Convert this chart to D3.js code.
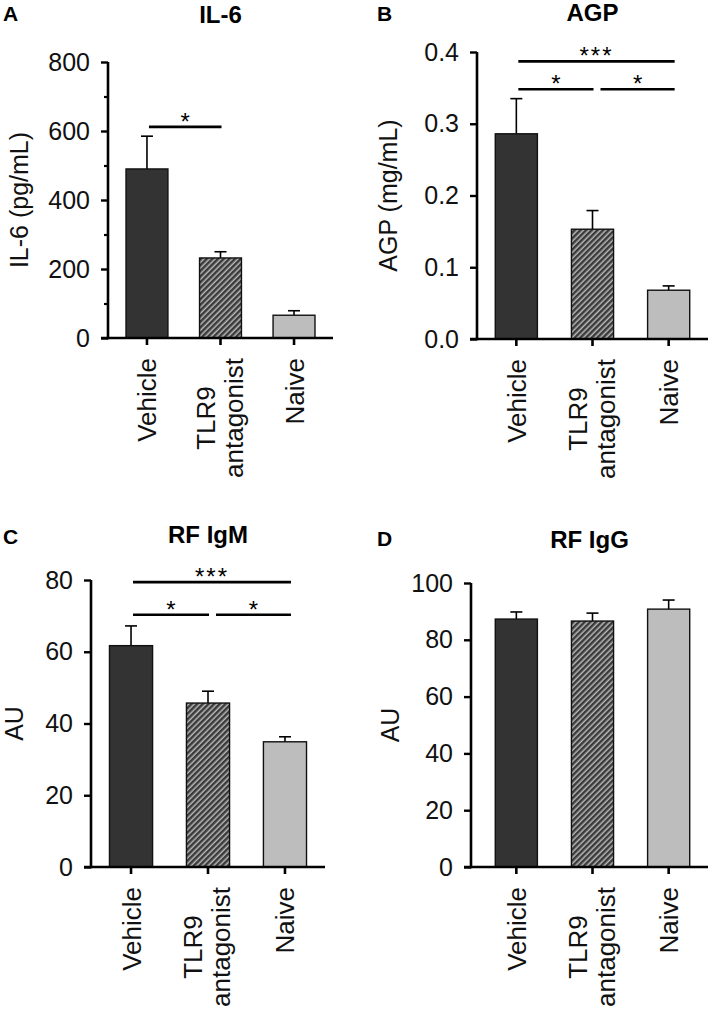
<!DOCTYPE html>
<html>
<head>
<meta charset="utf-8">
<script src="https://cdn.jsdelivr.net/npm/d3@7"></script>
<style>
  html, body { margin: 0; padding: 0; background: #fff; }
  svg { display: block; font-family: "Liberation Sans", Arial, sans-serif; }
</style>
</head>
<body>
<svg id="chart" width="709" height="1014"></svg>
<script>
// ---------------- DATA ----------------
const categories = ["Vehicle", "TLR9 antagonist", "Naive"];
const categoryLines = [["Vehicle"], ["TLR9", "antagonist"], ["Naive"]];

const il6Mean = [490, 232, 66];
const il6Sem = [95, 18, 13];
const il6Ticks = [0, 200, 400, 600, 800];
const il6MinorTicks = [100, 300, 500, 700];

const agpMean = [0.286, 0.153, 0.068];
const agpSem = [0.049, 0.026, 0.006];
const agpTicks = [0.0, 0.1, 0.2, 0.3, 0.4];

const rfIgmMean = [61.7, 45.7, 34.9];
const rfIgmSem = [5.5, 3.3, 1.4];
const rfIgmTicks = [0, 20, 40, 60, 80];

const rfIggMean = [87.3, 86.6, 90.8];
const rfIggSem = [2.5, 2.8, 3.2];
const rfIggTicks = [0, 20, 40, 60, 80, 100];

// significance annotations: [fromIndex, toIndex, yValue, label]
const il6Sig = [[0, 1, 612, "*"]];
const agpSig = [[0, 2, 0.387, "***"], [0, 1, 0.348, "*"], [1, 2, 0.348, "*"]];
const rfIgmSig = [[0, 2, 79.4, "***"], [0, 1, 70.3, "*"], [1, 2, 70.3, "*"]];
const rfIggSig = [];

// ---------------- LAYOUT ----------------
const svg = d3.select("#chart");
const defs = svg.append("defs");
const pat = defs.append("pattern")
  .attr("id", "hatch")
  .attr("patternUnits", "userSpaceOnUse")
  .attr("width", 4).attr("height", 4)
  .attr("patternTransform", "rotate(45)");
pat.append("rect").attr("width", 4).attr("height", 4).attr("fill", "#b8b8b8");
pat.append("rect").attr("x", 0).attr("y", 0).attr("width", 2.5).attr("height", 4).attr("fill", "#3a3a3a");

const fills = ["#333333", "url(#hatch)", "#bdbdbd"];

const panels = [
  { letter: "A", title: "IL-6", ylabel: "IL-6 (pg/mL)", mean: il6Mean, sem: il6Sem, ticks: il6Ticks, minor: il6MinorTicks,
    fmt: d => d3.format("d")(d), max: 800, axisX: 108, xEnd: 333, y0: 338, yTop: 62,
    pi: 0.43, po: 0.245, letterPos: [3, 21], titleY: 23, ylabX: 28, sig: il6Sig },
  { letter: "B", title: "AGP", ylabel: "AGP (mg/mL)", mean: agpMean, sem: agpSem, ticks: agpTicks, minor: [],
    fmt: d => d3.format(".1f")(d), max: 0.4, axisX: 477, xEnd: 708, y0: 339, yTop: 52,
    pi: 0.447, po: 0.24, letterPos: [377, 21], titleY: 21, ylabX: 397, sig: agpSig },
  { letter: "C", title: "RF IgM", ylabel: "AU", mean: rfIgmMean, sem: rfIgmSem, ticks: rfIgmTicks, minor: [],
    fmt: d => d3.format("d")(d), max: 80, axisX: 91, xEnd: 325, y0: 867, yTop: 580,
    pi: 0.44, po: 0.24, letterPos: [3, 544], titleY: 543, ylabX: 23, sig: rfIgmSig },
  { letter: "D", title: "RF IgG", ylabel: "AU", mean: rfIggMean, sem: rfIggSem, ticks: rfIggTicks, minor: [],
    fmt: d => d3.format("d")(d), max: 100, axisX: 471, xEnd: 708, y0: 867, yTop: 583,
    pi: 0.447, po: 0.24, bandStart: 477, letterPos: [377, 546], titleY: 548, ylabX: 399, sig: rfIggSig }
];

const tickFont = 25, catFont = 26;

panels.forEach(p => {
  const g = svg.append("g");
  const y = d3.scaleLinear().domain([0, p.max]).range([p.y0, p.yTop]);
  const x = d3.scaleBand().domain(categories)
    .range([p.bandStart || p.axisX, p.xEnd])
    .paddingInner(p.pi).paddingOuter(p.po);
  const bw = x.bandwidth();
  const cx = i => x(categories[i]) + bw / 2;

  // panel letter
  g.append("text").attr("x", p.letterPos[0]).attr("y", p.letterPos[1])
    .style("font-size", "21px").style("font-weight", "bold").text(p.letter);
  // title
  g.append("text").attr("x", (p.axisX + p.xEnd) / 2).attr("y", p.titleY)
    .attr("text-anchor", "middle").style("font-size", "24px").style("font-weight", "bold").text(p.title);

  const data = categories.map((c, i) => ({ c, i, m: p.mean[i], s: p.sem[i] }));
  // error bars (upper only)
  const eb = g.append("g").attr("stroke", "#000").attr("stroke-width", 1.6);
  data.forEach(d => {
    const xc = x(d.c) + bw / 2;
    eb.append("line").attr("x1", xc).attr("x2", xc).attr("y1", y(d.m)).attr("y2", y(d.m + d.s));
    eb.append("line").attr("x1", xc - 6).attr("x2", xc + 6).attr("y1", y(d.m + d.s)).attr("y2", y(d.m + d.s));
  });
  g.append("g").selectAll("rect").data(data).join("rect")
    .attr("x", d => x(d.c)).attr("width", bw)
    .attr("y", d => y(d.m)).attr("height", d => y(0) - y(d.m))
    .attr("fill", d => fills[d.i]).attr("stroke", "#111").attr("stroke-width", 1.4);

  // y axis
  const ya = g.append("g").attr("transform", `translate(${p.axisX},0)`)
    .call(d3.axisLeft(y).tickValues(p.ticks).tickFormat(p.fmt).tickSize(7).tickSizeOuter(0).tickPadding(11));
  ya.select(".domain").attr("stroke-width", 2.6).attr("d", `M0,${p.y0 + 1.3}V${p.yTop}`);
  ya.selectAll(".tick line").attr("stroke-width", 2.4);
  ya.selectAll(".tick text").attr("font-size", tickFont).attr("font-family", "Liberation Sans, Arial, sans-serif").attr("fill", "#111");
  if (p.minor.length) {
    const ym = g.append("g").attr("transform", `translate(${p.axisX},0)`)
      .call(d3.axisLeft(y).tickValues(p.minor).tickFormat("").tickSize(4).tickSizeOuter(0));
    ym.select(".domain").remove();
    ym.selectAll(".tick line").attr("stroke-width", 2.2);
  }

  // x axis
  const xa = g.append("g").attr("transform", `translate(0,${p.y0})`)
    .call(d3.axisBottom(x).tickSize(7).tickSizeOuter(0).tickFormat(""));
  xa.select(".domain").attr("stroke-width", 2.6).attr("d", `M${p.axisX - 7},0H${p.xEnd}`);
  xa.selectAll(".tick line").attr("stroke-width", 2.6);

  // category labels (rotated)
  categories.forEach((c, i) => {
    const lines = categoryLines[i];
    const xc = cx(i);
    const lg = g.append("g");
    const texts = lines.map(t => lg.append("text").attr("font-size", catFont).attr("fill", "#111").text(t));
    const lens = texts.map(t => t.node().getComputedTextLength());
    const maxLen = d3.max(lens);
    const startY = p.y0 + 20;
    const centerY = startY + maxLen / 2;
    const n = lines.length;
    texts.forEach((t, k) => {
      const off = n === 1 ? 9.5 : (k === 0 ? -6 : 22);
      t.attr("text-anchor", "middle")
        .attr("transform", `translate(${xc + off},${centerY}) rotate(-90)`);
    });
  });

  // y-axis label
  g.append("text").attr("transform", `translate(${p.ylabX},${(p.y0 + p.yTop) / 2}) rotate(-90)`)
    .attr("text-anchor", "middle").attr("font-size", 25).attr("fill", "#111").text(p.ylabel);

  // significance annotations
  p.sig.forEach(s => {
    const [a, b, v, lab] = s;
    const x1 = cx(a) + (a === 0 ? 2 : 8);
    const x2 = cx(b) + (b === 2 ? 6 : 1);
    const yy = y(v);
    g.append("line").attr("x1", x1).attr("x2", x2).attr("y1", yy).attr("y2", yy)
      .attr("stroke", "#000").attr("stroke-width", 2.6);
    g.append("text").attr("x", (x1 + x2) / 2).attr("y", yy + 3)
      .attr("text-anchor", "middle").attr("font-size", 24).attr("letter-spacing", lab.length > 1 ? 2 : 0)
      .text(lab);
  });
});
</script>
</body>
</html>
